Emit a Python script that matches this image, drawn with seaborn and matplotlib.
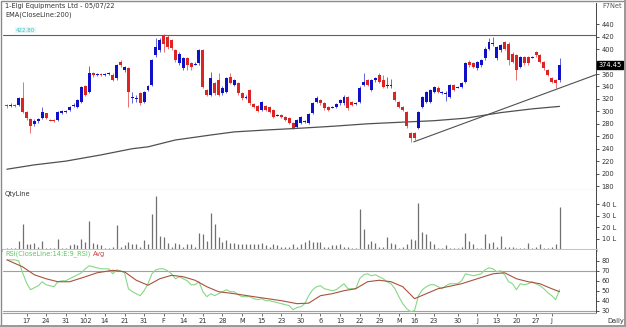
import numpy as np
import pandas as pd
import matplotlib
matplotlib.use("Agg")
import matplotlib.pyplot as plt
import matplotlib.transforms as mtransforms
from matplotlib.patches import Rectangle
import seaborn as sns

# ---------------- data ----------------
opens = [310,309,310,311,321,299,287,279,284,289,
         297,287,286,286,298,299,302,309,307,315,
         341,331,361,359,360,359,360,359,353,379,
         366,369,322,320,329,315,334,342,390,398,
         422,420,415,398,377,370,386,378,376,377,
         398,334,326,346,350,329,331,356,342,346,
         329,323,334,312,309,302,309,307,302,294,
         294,291,289,281,275,281,283,281,297,315,
         318,313,307,307,307,313,313,323,315,313,
         315,342,350,334,350,359,350,342,342,331,
         315,307,299,265,265,273,307,315,315,331,
         338,331,329,323,342,339,339,347,379,378,
         369,374,385,401,409,385,398,411,409,393,
         390,371,387,387,387,395,390,379,366,354,
         350,350]
closes = [309,310,309,321,299,289,276,284,287,299,
          289,286,285,299,300,300,307,310,318,339,
          326,362,359,360,359,360,362,351,374,374,
          371,331,323,321,313,331,341,382,403,414,
          409,404,402,382,393,386,374,371,377,398,
          339,326,354,329,326,338,354,346,350,329,
          321,323,313,307,301,315,302,299,291,294,
          291,286,281,273,286,291,283,296,313,321,
          313,305,302,307,312,318,323,305,310,313,
          338,348,342,350,354,347,339,342,342,318,
          307,302,276,257,257,299,323,331,334,339,
          331,331,329,342,335,339,345,377,374,371,
          379,382,401,411,409,403,406,401,382,379,
          366,387,377,377,387,390,379,369,359,347,
          345,374.45]
highs = [312,313,312,323,347,301,289,288,290,307,
         298,288,288,301,302,303,309,313,320,341,
         343,373,363,362,362,362,364,361,376,382,
         373,371,331,327,331,333,343,384,418,418,
         425,422,417,400,395,388,388,380,379,400,
         400,336,363,348,362,340,356,362,352,348,
         331,326,336,314,311,317,311,309,304,296,
         296,293,291,283,288,293,286,298,315,324,
         320,315,309,309,314,320,327,325,317,315,
         340,362,352,352,356,361,358,356,352,333,
         317,309,301,267,267,301,325,333,336,341,
         340,333,332,344,344,341,347,379,382,380,
         381,384,403,418,419,405,408,413,411,395,
         392,389,389,389,389,397,392,381,368,356,
         352,386]
lows = [306,307,307,309,297,286,265,276,282,287,
        287,284,283,284,296,297,300,307,305,314,
        324,329,356,357,357,357,358,349,351,372,
        364,307,314,315,311,313,332,340,388,396,
        395,401,399,380,375,366,366,366,374,375,
        337,324,324,327,324,327,329,344,340,327,
        319,320,311,305,299,300,300,297,289,292,
        289,284,279,271,273,279,281,279,295,313,
        311,303,300,305,305,311,311,303,308,310,
        313,340,340,332,348,345,337,338,338,316,
        305,300,274,251,254,271,305,313,313,329,
        329,328,317,321,333,337,337,345,372,369,
        367,372,383,399,405,383,396,399,375,377,
        351,369,375,375,385,388,377,367,357,345,
        338,348]
volume_l = [2,2,2,8,23,5,5,6,3,8,
            2,2,2,10,2,2,4,5,4,10,
            7,25,6,5,4,2,2,3,22,3,
            4,7,5,5,3,9,5,31,47,12,
            11,6,3,6,5,3,5,5,3,15,
            14,8,32,23,11,7,9,6,6,5,
            5,5,5,5,5,6,4,3,5,4,
            3,3,3,5,3,5,7,9,7,7,
            7,3,3,4,4,5,3,3,2,2,
            36,18,5,8,6,3,3,11,6,5,
            2,3,5,10,9,41,16,14,8,5,
            2,2,4,2,2,2,3,15,8,5,
            2,2,14,6,7,3,12,3,3,3,
            2,2,2,6,2,3,5,2,2,3,
            5,37]
rsi = [81,81,81,80,68,58,51,53,55,59,
       56,55,54,59,60,60,62,64,66,68,
       72,75,74,73,72,72,72,67,71,70,
       68,52,49,47,45,50,57,67,71,72,
       72,70,67,62,64,62,60,56,56,59,
       49,44,47,45,47,49,51,49,49,46,
       44,44,44,42,41,42,40,40,39,38,
       37,36,35,31,33,34,37,45,51,54,
       55,52,51,50,51,54,57,52,52,52,
       62,66,67,65,66,64,62,59,57,52,
       44,37,32,29,30,45,51,54,56,56,
       54,52,55,57,57,57,60,67,66,65,
       66,67,71,73,72,69,70,66,59,57,
       51,57,56,57,59,57,55,52,48,45,
       41,51]
avg_idx = [0,4,7,10,13,16,20,23,27,30,33,36,39,42,45,48,51,54,58,63,70,74,77,80,
           83,86,89,92,95,98,101,104,107,110,113,116,120,124,127,130,133,136,139,141]
avg_val = [81,74,66,62,59,59,64,68,70.5,69,60.5,55.5,62,65.5,64,60.5,54,49,47,44,40,37,37.5,45,
           47,50,52,59,60.5,59,54,42,47,52,54.5,57,62,67,68,62,59,57,52,49]
ema_idx = [0,7,15,24,32,36,43,52,58,66,75,83,92,102,109,117,126,134,141]
ema_val = [207,214,220,230,240,243,254,262,267,270,273,276,280,283,285,289,298,304,308]
trend_idx = [103.8, 150.3]
trend_val = [251, 359]
resist_level = 422.8
price_ticks = list(range(180, 441, 20))
price_tick_labels = ["180","200","220","240","260","280","300","320","340","360","","400","420","440"]
vol_ticks = [10, 20, 30, 40]
vol_tick_labels = ["10 L", "20 L", "30 L", "40 L"]
rsi_ticks = [30, 40, 50, 60, 70, 80]
date_pos = [5,10,15,20,25,30,35,40,45,50,55,60,65,70,75,80,85,90,95,100,104,109,115,120,125,130,135,139]
date_labels = ["17","24","31","102","14","21","31","F","14","21","28","M","15","23","30","6",
               "13","22","29","M","16","23","30","J","13","20","27","J"]

# ---------------- style ----------------
sns.set_style("white")
plt.rcParams['font.family'] = ['DejaVu Sans']
FS = 4.8
TXT = "#333333"

W, H = 626, 327
fig = plt.figure(figsize=(W/100, H/100), dpi=100)
fig.patch.set_facecolor("white")

def px_axes(x0, y0, x1, y1):
    return fig.add_axes([x0/W, 1 - y1/H, (x1 - x0)/W, (y1 - y0)/H])

ax1 = px_axes(3, 3, 596, 190)
ax2 = px_axes(3, 190, 596, 250)
ax3 = px_axes(3, 250, 596, 313)

XL = (-1.0, 150.3)
n = len(closes)
idx = np.arange(n)

# ---------------- price panel ----------------
BLUE = "#1010c8"
RED = "#dc2424"
for i in range(n):
    o, c, h, l = opens[i], closes[i], highs[i], lows[i]
    col = BLUE if c >= o else RED
    ax1.vlines(i, l, h, color=col, lw=0.6, alpha=0.75, zorder=2)
    ax1.bar(i, max(abs(c - o), 1.6), bottom=min(o, c) - (0.8 if abs(c - o) < 1.6 else 0),
            width=0.75, color=col, linewidth=0, zorder=3)

sns.lineplot(x=ema_idx, y=ema_val, ax=ax1, color="#505050", lw=0.9, estimator=None, sort=False)
ax1.plot(trend_idx, trend_val, color="#505050", lw=0.8)
ax1.axhline(resist_level, color="#606060", lw=0.8)

ax1.set_xlim(*XL)
ax1.set_ylim(173.6, 474.2)
ax1.yaxis.tick_right()
ax1.set_yticks(price_ticks)
ax1.set_yticklabels(price_tick_labels)
ax1.tick_params(axis='y', direction='out', length=2.5, width=0.6, labelsize=FS, pad=1.5,
                colors=TXT, right=True, left=False)
ax1.tick_params(axis='x', bottom=False, labelbottom=False)

# last price tag
tr = mtransforms.blended_transform_factory(ax1.transAxes, ax1.transData)
ax1.text(1.004, closes[-1], f"{closes[-1]:.2f}", transform=tr, fontsize=FS, color="white",
         va="center", ha="left", bbox=dict(boxstyle="square,pad=0.15", fc="black", ec="black"),
         zorder=10, clip_on=False)

# ---------------- volume panel ----------------
ax2.vlines(idx, 0, volume_l, color="#707070", lw=0.9)
ax2.set_xlim(*XL)
ax2.set_ylim(0, 52.2)
ax2.yaxis.tick_right()
ax2.set_yticks(vol_ticks)
ax2.set_yticklabels(vol_tick_labels)
ax2.tick_params(axis='y', direction='out', length=2.5, width=0.6, labelsize=FS, pad=1.5,
                colors=TXT, right=True, left=False)
ax2.tick_params(axis='x', bottom=False, labelbottom=False)

# ---------------- RSI panel ----------------
ax3.axhline(70, color="#a0a0a0", lw=0.8)
ax3.axhline(30, color="#a0a0a0", lw=0.8)
sns.lineplot(x=idx, y=rsi, ax=ax3, color="#86d886", lw=0.8, estimator=None, sort=False)
sns.lineplot(x=avg_idx, y=avg_val, ax=ax3, color="#a8523e", lw=0.8, estimator=None, sort=False)
ax3.set_xlim(*XL)
ax3.set_ylim(27.6, 90.9)
ax3.yaxis.tick_right()
ax3.set_yticks(rsi_ticks)
ax3.set_yticklabels([str(t) for t in rsi_ticks])
ax3.tick_params(axis='y', direction='out', length=2.5, width=0.6, labelsize=FS, pad=1.5,
                colors=TXT, right=True, left=False)
ax3.set_xticks(date_pos)
ax3.set_xticklabels(date_labels)
ax3.tick_params(axis='x', direction='out', length=2, width=0.5, labelsize=FS, pad=1.5,
                colors=TXT, bottom=True)

for ax in (ax1, ax2, ax3):
    ax.set_facecolor("white")
    ax.set_xlabel("")
    ax.set_ylabel("")
    for s in ("left", "top"):
        ax.spines[s].set_visible(False)
    ax.spines["right"].set_color("#444444")
    ax.spines["right"].set_linewidth(0.7)
    ax.spines["bottom"].set_color("#9a9a9a")
    ax.spines["bottom"].set_linewidth(0.8)
ax2.spines["bottom"].set_linewidth(2.2)
ax2.spines["bottom"].set_color("#c4c4c4")
ax3.spines["bottom"].set_color("#a0a0a0")

# ---------------- texts ----------------
fig.text(5/W, 1 - 6/H, "1-Elgi Equipments Ltd - 05/07/22", fontsize=FS, color=TXT, va="center")
fig.text(5/W, 1 - 15/H, "EMA(CloseLine:200)", fontsize=FS, color=TXT, va="center")
fig.text(622/W, 1 - 6/H, "F7Net", fontsize=FS, color="#555555", va="center", ha="right")
fig.text(16/W, 1 - 30/H, f"{resist_level:.2f}", fontsize=FS - 0.8, color="#3fbfbf", va="center",
         bbox=dict(boxstyle="square,pad=0.1", fc="#e6f7f7", ec="none"))
fig.text(5/W, 1 - 194/H, "QtyLine", fontsize=FS, color=TXT, va="center")
fig.text(5/W, 1 - 254/H, "RSI(CloseLine:14:E:9_RSI)", fontsize=FS, color="#5cc85c", va="center")
fig.text(93/W, 1 - 254/H, "Avg", fontsize=FS, color="#d04040", va="center")
fig.text(607/W, 1 - 321/H, "Daily", fontsize=FS, color=TXT, va="center")

# outer frame
fig.patches.append(Rectangle((0.5/W, 0.5/H), (W - 1.5)/W, (H - 1.5)/H, transform=fig.transFigure,
                             fill=False, ec="#8a8a8a", lw=1.0))
fig.patches.append(Rectangle((0, 0), 1, 2.5/H, transform=fig.transFigure, fill=True,
                             fc="#9a9a9a", ec="none"))
fig.patches.append(Rectangle((1 - 2.5/W, 0), 2.5/W, 1, transform=fig.transFigure, fill=True,
                             fc="#9a9a9a", ec="none"))

fig.savefig("out.png", dpi=100)
